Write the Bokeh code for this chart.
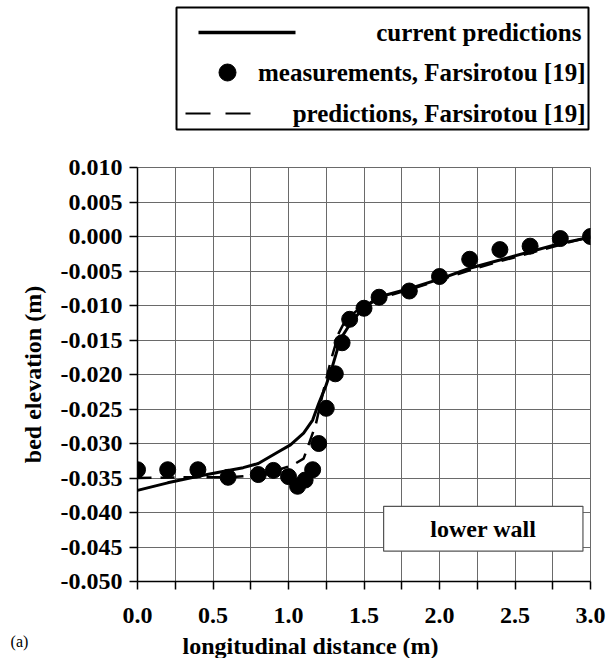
from bokeh.plotting import figure
from bokeh.layouts import column
from bokeh.models import Range1d, FixedTicker, NumeralTickFormatter, BoxAnnotation, Label
from bokeh.core.properties import value
from bokeh.embed import file_html
from bokeh.resources import INLINE

# ---------------- data ----------------
meas_x = [0.0, 0.2, 0.4, 0.6, 0.8, 0.9, 1.0, 1.06, 1.11, 1.16, 1.2, 1.25, 1.31, 1.355, 1.405,
          1.5, 1.6, 1.8, 2.0, 2.2, 2.4, 2.6, 2.8, 3.0]
meas_y = [-0.0338, -0.0338, -0.0338, -0.0349, -0.0345, -0.0339, -0.0348, -0.0362, -0.0353, -0.0338,
          -0.0300, -0.0249, -0.0199, -0.0154, -0.0120, -0.0104, -0.0088, -0.0079, -0.0058, -0.0033,
          -0.0019, -0.0014, -0.0003, 0.0000]

cur_x = [0.0, 0.2, 0.41, 0.6, 0.7, 0.8, 0.925, 1.013, 1.1, 1.16, 1.2, 1.245, 1.29, 1.322, 1.355,
         1.41, 1.5, 1.61, 1.81, 2.01, 2.2, 2.4, 2.6, 2.8, 3.0]
cur_y = [-0.0368, -0.0357, -0.0347, -0.0339, -0.0335, -0.0329, -0.0313, -0.0302, -0.0285, -0.0266,
         -0.0242, -0.0218, -0.0189, -0.0165, -0.0145, -0.0126, -0.0102, -0.0087, -0.0075, -0.0061,
         -0.0046, -0.0034, -0.0022, -0.0010, -0.0001]

fp_x = [0.0, 0.3, 0.6, 0.85, 0.95, 1.03, 1.1, 1.18, 1.23, 1.28, 1.333, 1.38, 1.45, 1.6, 1.8, 2.0,
        2.2, 2.4, 2.6, 2.8, 3.0]
fp_y = [-0.0350, -0.0349, -0.0349, -0.0345, -0.0337, -0.0331, -0.0322, -0.0273, -0.0225, -0.0180,
        -0.0140, -0.0120, -0.0108, -0.0090, -0.0077, -0.0063, -0.0049, -0.0036, -0.0024, -0.0012, 0.0000]

x_major_ticks = [0.0, 0.5, 1.0, 1.5, 2.0, 2.5, 3.0]
x_minor_ticks = [0.25, 0.75, 1.25, 1.75, 2.25, 2.75]
y_ticks = [0.010, 0.005, 0.000, -0.005, -0.010, -0.015, -0.020, -0.025, -0.030, -0.035, -0.040,
           -0.045, -0.050]

legend_labels = ["current predictions", "measurements, Farsirotou [19]", "predictions, Farsirotou [19]"]
x_title = "longitudinal distance (m)"
y_title = "bed elevation (m)"
panel_label = "(a)"
box_label = "lower wall"

FONT = "Liberation Serif"
GRID = "#6a6a6a"


def strip(height):
    f = figure(width=608, height=height, output_backend="svg", toolbar_location=None,
               x_range=Range1d(0, 608), y_range=Range1d(height, 0), min_border=0,
               frame_align=False)
    f.axis.visible = False
    f.grid.visible = False
    f.outline_line_color = None
    return f


# ---------------- legend strip ----------------
leg = strip(140)
leg.add_layout(BoxAnnotation(left=176, right=588, top=7, bottom=129, fill_color=None,
                             line_color="black", line_alpha=1, line_width=2))
leg.line([198, 295], [32, 32], line_color="black", line_width=3.5)
leg.scatter([227], [72], size=17, fill_color="black", line_color="black")
leg.line([185, 253], [113, 113], line_color="black", line_width=2, line_dash="25 15")
leg.text(x=[581, 585, 585], y=[32, 72, 113], text=legend_labels, text_align="right",
         text_baseline="middle", text_font=value(FONT), text_font_style="bold",
         text_font_size="25px", text_color="black")

# ---------------- main chart ----------------
p = figure(width=608, height=494, output_backend="svg", toolbar_location=None,
           x_range=Range1d(0, 3), y_range=Range1d(-0.050, 0.010), frame_align=False,
           min_border_left=137, min_border_right=18, min_border_top=27, min_border_bottom=53)
p.outline_line_color = GRID
p.outline_line_width = 1

xt = FixedTicker(ticks=x_major_ticks, minor_ticks=x_minor_ticks)
yt = FixedTicker(ticks=y_ticks)
p.xaxis.ticker = xt
p.yaxis.ticker = yt
p.xgrid.ticker = xt
p.ygrid.ticker = yt
p.xaxis.formatter = NumeralTickFormatter(format="0.0")
p.yaxis.formatter = NumeralTickFormatter(format="0.000")

for g in (p.xgrid, p.ygrid):
    g.grid_line_color = GRID
    g.grid_line_width = 1
p.xgrid.minor_grid_line_color = GRID
p.xgrid.minor_grid_line_width = 1

for ax in (p.xaxis, p.yaxis):
    ax.axis_line_color = "black"
    ax.axis_line_width = 1.5
    ax.major_tick_line_color = "black"
    ax.major_tick_line_width = 1.5
    ax.major_tick_out = 8
    ax.major_tick_in = 0
    ax.major_label_text_font = FONT
    ax.major_label_text_font_style = "bold"
    ax.major_label_text_font_size = "24px"
    ax.major_label_text_color = "black"
p.xaxis.minor_tick_line_color = "black"
p.xaxis.minor_tick_line_width = 1.5
p.xaxis.minor_tick_out = 8
p.xaxis.minor_tick_in = 0
p.yaxis.minor_tick_line_color = None
p.xaxis.major_label_standoff = 18
p.yaxis.major_label_standoff = 7

p.yaxis.axis_label = y_title
p.yaxis.axis_label_text_font = FONT
p.yaxis.axis_label_text_font_style = "bold"
p.yaxis.axis_label_text_font_size = "24px"
p.yaxis.axis_label_text_color = "black"
p.yaxis.axis_label_standoff = 12

p.line(cur_x, cur_y, line_color="black", line_width=3)
p.line(fp_x, fp_y, line_color="black", line_width=2.5, line_dash="14 9")
p.scatter(meas_x, meas_y, size=16, fill_color="black", line_color="black")

p.add_layout(BoxAnnotation(left=1.63, right=2.95, bottom=-0.0456, top=-0.0391, fill_color="white",
                           fill_alpha=1, line_color="#555555", line_alpha=1, line_width=1.2))
p.add_layout(Label(x=2.29, y=-0.04235, text=box_label, text_align="center", text_baseline="middle",
                   text_font=FONT, text_font_style="bold", text_font_size="24px", text_color="black"))

# ---------------- bottom strip: axis title and panel label ----------------
bot = strip(24)
bot.text(x=[310], y=[11], text=[x_title], text_align="center", text_baseline="middle",
         text_font=value(FONT), text_font_style="bold", text_font_size="24px", text_color="black")
bot.text(x=[19], y=[7], text=[panel_label], text_align="center", text_baseline="middle",
         text_font=value(FONT), text_font_size="16px", text_color="black")

layout = column(leg, p, bot, spacing=0)
open("out.html", "w").write(file_html(layout, INLINE))
